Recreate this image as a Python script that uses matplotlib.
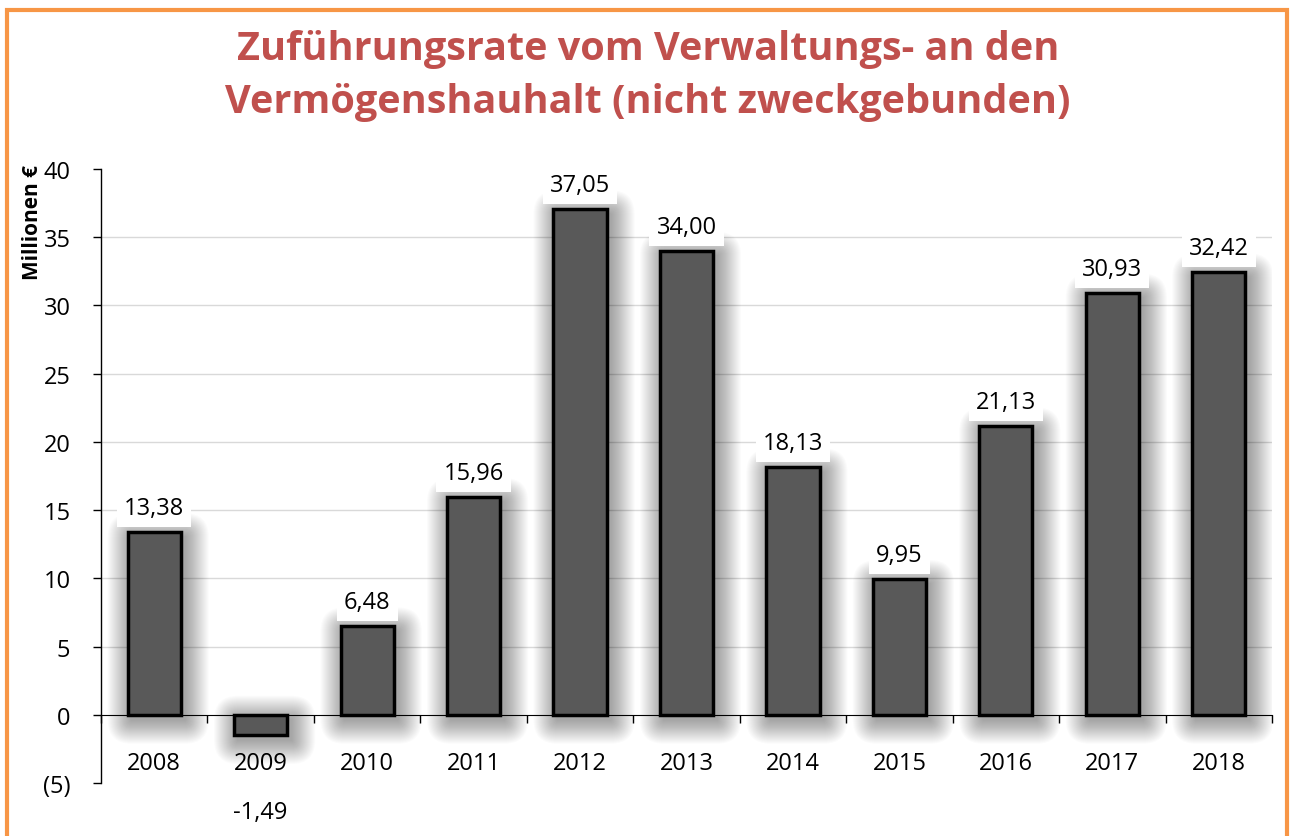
import numpy as np
import matplotlib
matplotlib.use("Agg")
import matplotlib.pyplot as plt
from matplotlib.patches import Rectangle, FancyBboxPatch

# Daten
jahre = ['2008', '2009', '2010', '2011', '2012', '2013', '2014', '2015', '2016', '2017', '2018']
werte = [13.38, -1.49, 6.48, 15.96, 37.05, 34.00, 18.13, 9.95, 21.13, 30.93, 32.42]
y_ticks = [-5, 0, 5, 10, 15, 20, 25, 30, 35, 40]

titel = 'Zuführungsrate vom Verwaltungs- an den\nVermögenshauhalt (nicht zweckgebunden)'

plt.rcParams['font.family'] = ['Open Sans', 'DejaVu Sans']

fig = plt.figure(figsize=(12.93, 8.37), dpi=100)
ax = fig.add_axes([101 / 1293, 1 - 784 / 837, (1272 - 101) / 1293, (784 - 170) / 837])

x = np.arange(len(jahre))
breite = 0.5

ax.set_xlim(-0.5, len(jahre) - 0.5)
ax.set_ylim(-5, 40)

# Pixel -> Dateneinheiten (fuer den weichen Schatten)
bb = ax.get_position()
px_x = (ax.get_xlim()[1] - ax.get_xlim()[0]) / (bb.width * fig.get_figwidth() * fig.dpi)
px_y = (ax.get_ylim()[1] - ax.get_ylim()[0]) / (bb.height * fig.get_figheight() * fig.dpi)

# weicher Schatten: viele leicht versetzte, abgerundete, transparente Flaechen
versatz_x, versatz_y = 4, 5
for xi, v in zip(x, werte):
    unten, oben = min(0, v), max(0, v)
    for k in range(1, 25):
        ax.add_patch(FancyBboxPatch(
            (xi - breite / 2 + versatz_x * px_x, unten - versatz_y * px_y),
            breite, oben - unten,
            boxstyle=f'round,pad={k * px_x},rounding_size={k * px_x}',
            mutation_aspect=px_y / px_x,
            facecolor='black', edgecolor='none', alpha=0.015, zorder=2))

balken = ax.bar(x, werte, width=breite, color='#595959', edgecolor='black',
                linewidth=2.5, zorder=3)

# Datenbeschriftungen
for xi, v in zip(x, werte):
    txt = f'{v:.2f}'.replace('.', ',')
    off = 13 if v >= 0 else -60
    ax.annotate(txt, (xi, v), xytext=(0, off), textcoords='offset points',
                ha='center', va='baseline', fontsize=17, zorder=5, annotation_clip=False,
                bbox=dict(boxstyle='square,pad=0.3', fc='white', ec='none'))

ax.set_yticks(y_ticks)
ax.set_yticklabels([f'({abs(t)})' if t < 0 else str(t) for t in y_ticks], fontsize=17)
ax.tick_params(axis='y', length=6, width=1, direction='out', pad=16)
yt = ax.yaxis.get_major_ticks()
yt[0].tick1line.set_color('#A6A6A6')
yt[-1].tick1line.set_color('#A6A6A6')

for t in y_ticks:
    if 0 < t < 40:
        ax.axhline(t, color='#D9D9D9', linewidth=1, zorder=1)

ax.spines['top'].set_visible(False)
ax.spines['right'].set_visible(False)
ax.spines['bottom'].set_position(('data', 0))
ax.spines['bottom'].set_zorder(4)
ax.spines['left'].set_linewidth(1)

ax.set_xticks(x)
ax.set_xticklabels(jahre, fontsize=17)
ax.set_xticks(np.arange(-0.5, len(jahre)), minor=True)
ax.tick_params(axis='x', which='major', length=0, pad=26)
ax.tick_params(axis='x', which='minor', length=6, width=1, direction='out', color='black')

fig.text(33 / 1293, 1 - 165 / 837, 'Millionen €', rotation=90, ha='center', va='top',
         fontsize=15, fontweight='bold')

fig.text(648 / 1293, 1 - 76 / 837, titel, ha='center', va='center', fontsize=28.5,
         fontweight='bold', color='#C0504D', linespacing=1.45)

# oranger Rahmen
fig.patches.append(Rectangle((7 / 1293, -0.05), (1287 - 7) / 1293, 1.05 - 11 / 837,
                             transform=fig.transFigure, fill=False,
                             edgecolor='#F79646', linewidth=3))

fig.savefig('out.png', dpi=100)
